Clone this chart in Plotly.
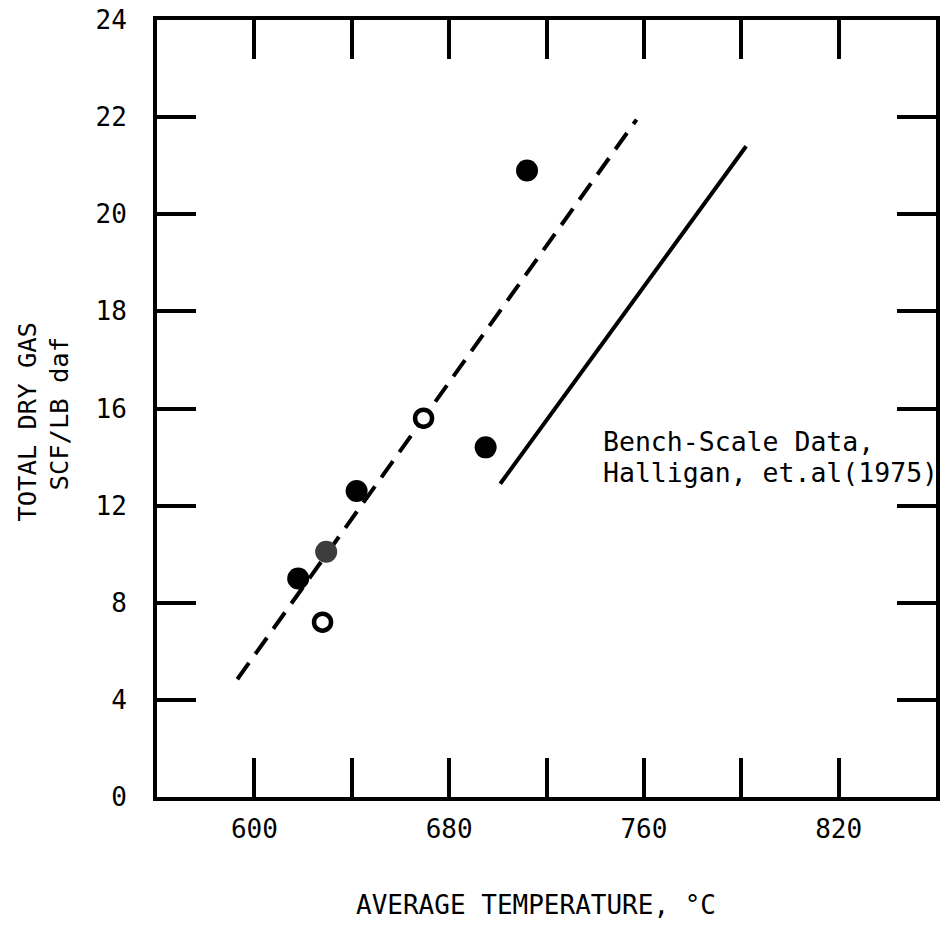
import numpy as np
import plotly.graph_objects as go

# ---- data (in the units printed on the axes) ----
filled_temp = [618, 642, 695, 712]
filled_gas = [9.0, 12.6, 14.4, 20.9]

gray_temp = [629.5]
gray_gas = [10.1]

open_temp = [628, 669.5]
open_gas = [7.2, 15.6]

dashed_temp = [593, 757]
dashed_gas = [4.85, 21.95]

bench_temp = [701, 791.5]
bench_gas = [12.9, 21.4]

# axis labelling of the original (evenly spaced ticks, uneven labels)
x_tick_labels = ["600", "", "680", "", "760", "", "820"]
y_tick_labels = ["0", "4", "8", "12", "16", "18", "20", "22", "24"]
x_scale_vals = [560, 600, 640, 680, 720, 760, 790, 820, 850]
y_scale_vals = [0, 4, 8, 12, 16, 18, 20, 22, 24]
slots = list(range(9))


def fx(v):
    return np.interp(v, x_scale_vals, slots)


def fy(v):
    return np.interp(v, y_scale_vals, slots)


MONO = "DejaVu Sans Mono, Liberation Mono, monospace"

fig = go.Figure()

fig.add_trace(go.Scatter(
    x=fx(dashed_temp), y=fy(dashed_gas), mode="lines",
    line=dict(color="black", width=4, dash="20px,11px"),
    showlegend=False, hoverinfo="skip"))

fig.add_trace(go.Scatter(
    x=fx(bench_temp), y=fy(bench_gas), mode="lines",
    line=dict(color="black", width=4),
    showlegend=False, hoverinfo="skip"))

fig.add_trace(go.Scatter(
    x=fx(filled_temp), y=fy(filled_gas), mode="markers",
    marker=dict(symbol="circle", size=22, color="black", line=dict(width=0)),
    showlegend=False))

fig.add_trace(go.Scatter(
    x=fx(gray_temp), y=fy(gray_gas), mode="markers",
    marker=dict(symbol="circle", size=22, color="#3c3c3c", line=dict(width=0)),
    showlegend=False))

fig.add_trace(go.Scatter(
    x=fx(open_temp), y=fy(open_gas), mode="markers",
    marker=dict(symbol="circle", size=17, color="white",
                line=dict(width=4.5, color="black")),
    showlegend=False))

axis_common = dict(
    showline=True, linecolor="black", linewidth=4, mirror="ticks",
    ticks="inside", ticklen=39, tickwidth=4, tickcolor="black",
    showgrid=False, zeroline=False, ticklabeloverflow="allow",
    tickfont=dict(family=MONO, size=26, color="black"),
)

fig.update_xaxes(range=[0, 8], tickmode="array", tickvals=list(range(1, 8)),
                 ticktext=x_tick_labels, ticklabelstandoff=6, **axis_common)
fig.update_yaxes(range=[0, 8], tickmode="array", tickvals=list(range(0, 9)),
                 ticktext=y_tick_labels, ticklabelstandoff=21, **axis_common)

annotations = [
    dict(text="AVERAGE TEMPERATURE, °C", xref="paper", yref="paper",
         x=0.4866, y=-0.1396, xanchor="center", yanchor="middle",
         showarrow=False, font=dict(family=MONO, size=26, color="black")),
    dict(text="TOTAL DRY GAS", xref="paper", yref="paper",
         x=-0.1673, y=0.4827, xanchor="center", yanchor="middle", textangle=-90,
         showarrow=False, font=dict(family=MONO, size=25.5, color="black")),
    dict(text="SCF/LB daf", xref="paper", yref="paper",
         x=-0.1252, y=0.4942, xanchor="center", yanchor="middle", textangle=-90,
         showarrow=False, font=dict(family=MONO, size=25.5, color="black")),
    dict(text="Bench-Scale Data,", xref="paper", yref="paper",
         x=0.5696, y=0.4571, xanchor="left", yanchor="middle",
         showarrow=False, font=dict(family=MONO, size=26.5, color="black")),
    dict(text="Halligan, et.al(1975)", xref="paper", yref="paper",
         x=0.5696, y=0.4174, xanchor="left", yanchor="middle",
         showarrow=False, font=dict(family=MONO, size=26.5, color="black")),
]

fig.update_layout(
    width=945, height=930,
    margin=dict(l=157, r=5, t=16, b=133),
    plot_bgcolor="white", paper_bgcolor="white",
    annotations=annotations,
    showlegend=False,
)

fig.write_html(
    "out.html",
    config={"displayModeBar": False},
    post_script="document.body.style.margin='0';"
                "document.documentElement.style.overflow='hidden';",
)
